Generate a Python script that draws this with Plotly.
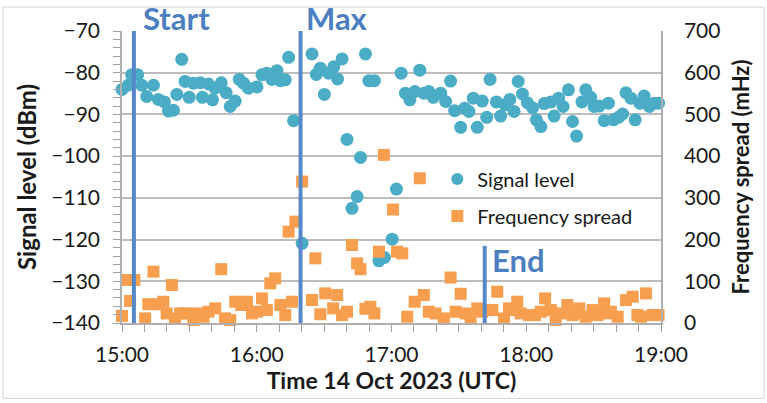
import pandas as pd
import plotly.graph_objects as go

# ---- data (minutes after 15:00 UTC, 14 Oct 2023) ----
sig_min = [0, 2.8, 4.3, 7.0, 8.8, 11.0, 14.0, 16.2, 18.9, 20.7, 22.9, 24.4, 26.6, 28.1, 29.9,
           31.8, 34.8, 35.8, 38.5, 40.3, 41.5, 44.2, 46.4, 48.2, 50.4, 52.2, 54.1, 56.3, 60.1,
           62.3, 64.5, 66.8, 69.0, 70.5, 72.7, 74.2, 76.4, 80.2, 84.6, 86.5, 88.3, 90.1, 92.0,
           94.3, 96.0, 98.0, 100.2, 102.4, 104.7, 106.2, 108.4, 109.9, 112.4, 114.4, 116.9,
           120.3, 122.2, 124.3, 126.2, 128.2, 130.4, 132.6, 134.4, 136.6, 138.6, 141.9, 144.1,
           146.3, 148.1, 150.8, 152.6, 154.5, 156.4, 158.2, 160.4, 162.4, 163.9, 166.7, 168.6,
           170.6, 172.7, 174.6, 176.4, 178.3, 180.5, 182.8, 184.5, 186.5, 188.0, 191.0, 192.4,
           194.4, 196.4, 198.8, 200.6, 202.4, 204.8, 206.5, 208.7, 210.2, 212.5, 214.7, 216.6,
           218.9, 221.1, 222.9, 224.4, 226.6, 228.5, 230.6, 232.5, 234.8, 237.0, 238.9, 240.7]
sig_dbm = [-84.0, -83.0, -80.5, -80.5, -83.0, -85.7, -83.0, -86.4, -87.0, -89.2, -89.0, -85.2,
           -76.8, -82.1, -85.9, -82.5, -82.4, -85.9, -82.7, -86.5, -83.7, -82.4, -84.8, -88.1,
           -86.8, -81.6, -82.5, -83.7, -83.4, -80.5, -80.1, -81.6, -79.5, -81.9, -81.7, -76.3,
           -91.5, -120.9, -75.5, -80.4, -78.9, -85.2, -80.1, -78.6, -81.5, -76.7, -96.0, -112.5,
           -109.7, -100.3, -75.5, -81.9, -81.9, -125.1, -124.3, -119.9, -107.9, -80.1, -84.9,
           -86.5, -84.5, -79.4, -84.9, -84.5, -85.9, -84.9, -86.9, -82.0, -89.1, -93.1, -88.5,
           -89.3, -86.1, -93.1, -86.8, -90.7, -81.6, -87.0, -90.4, -87.7, -86.4, -89.3, -82.1,
           -85.1, -87.2, -88.4, -91.3, -92.9, -87.4, -87.0, -90.4, -86.1, -88.1, -84.1, -91.7,
           -95.2, -87.0, -84.1, -85.9, -88.1, -88.0, -91.5, -87.3, -91.3, -90.7, -89.9, -84.8,
           -86.1, -91.3, -87.3, -85.6, -88.1, -87.3, -87.3, -86.7]

freq_min = [0, 2.5, 3.6, 5.5, 10.3, 11.7, 14.0, 15.5, 18.4, 19.9, 22.2, 23.6, 25.9, 28.1, 31.8,
            33.3, 36.3, 38.5, 41.5, 44.2, 45.9, 48.2, 50.4, 53.1, 55.6, 57.9, 60.1, 62.3, 64.5,
            66.0, 68.2, 70.5, 72.7, 74.2, 75.7, 77.2, 80.2, 84.6, 86.1, 88.3, 90.5, 94.0, 95.8,
            98.0, 100.2, 102.4, 104.7, 106.2, 108.4, 110.6, 112.4, 114.4, 116.6, 120.7, 122.5,
            124.8, 127.0, 130.3, 132.6, 134.4, 136.6, 139.6, 143.3, 146.3, 148.6, 150.8, 153.0,
            155.2, 158.2, 160.4, 162.7, 164.9, 167.1, 170.1, 172.3, 174.6, 176.0, 177.5, 181.2,
            183.9, 186.5, 188.4, 190.9, 193.1, 195.4, 198.3, 200.6, 202.4, 203.6, 206.5, 209.5,
            211.7, 214.7, 216.6, 217.7, 220.7, 224.4, 227.4, 229.5, 231.1, 233.3, 236.3, 238.9,
            240.7]
freq_mhz = [17, 103, 53, 103, 11, 45, 123, 45, 51, 23, 91, 11, 23, 23, 7,
            23, 15, 27, 35, 129, 11, 7, 51, 43, 51, 23, 27, 59, 31,
            95, 107, 43, 19, 219, 51, 243, 339, 55, 155, 21, 71, 35, 67,
            19, 27, 187, 143, 129, 34, 39, 23, 171, 403, 272, 171,
            167, 15, 51, 347, 67, 27, 23, 11, 109, 27, 70, 23,
            11, 35, 27, 31, 31, 75, 11, 35, 31, 51, 23, 19,
            19, 27, 59, 31, 7, 23, 43, 19, 23, 35, 15, 31,
            19, 47, 23, 27, 15, 55, 63, 19, 15, 71, 19, 19,
            15]

event_names = ["Start", "Max", "End"]
event_min = [5.3, 79.5, 161.5]
end_line_top_dbm = -121.5

x_ticks = ["15:00", "16:00", "17:00", "18:00", "19:00"]

# ---- build ----
base = pd.Timestamp("2023-10-14 15:00")
to_t = lambda m: [base + pd.Timedelta(minutes=v) for v in m]

FONT = "Lato"
TEAL = "#4bacc6"
ORANGE = "#f79f4f"
BLUE_LINE = "#5588c8"
BLUE_TEXT = "#4d7fc0"
TXT = "#1a1a1a"

fig = go.Figure()
fig.add_trace(go.Scatter(x=to_t(sig_min), y=sig_dbm, mode="markers", name="Signal level",
                         marker=dict(color=TEAL, size=13, symbol="circle"),
                         cliponaxis=False, legendgroup="a", yaxis="y"))
fig.add_trace(go.Scatter(x=to_t(freq_min), y=freq_mhz, mode="markers", name="Frequency spread",
                         marker=dict(color=ORANGE, size=12, symbol="square"),
                         cliponaxis=False, legendgroup="b", yaxis="y2"))

ev_t = to_t(event_min)
shapes = [
    dict(type="line", xref="x", yref="paper", x0=ev_t[0], x1=ev_t[0], y0=0, y1=1,
         line=dict(color=BLUE_LINE, width=4)),
    dict(type="line", xref="x", yref="paper", x0=ev_t[1], x1=ev_t[1], y0=0, y1=1,
         line=dict(color=BLUE_LINE, width=4)),
    dict(type="line", xref="x", yref="y", x0=ev_t[2], x1=ev_t[2], y0=-140, y1=end_line_top_dbm,
         line=dict(color=BLUE_LINE, width=4)),
    dict(type="rect", xref="paper", yref="paper", x0=-0.2208, x1=1.191, y0=-0.258, y1=1.082,
         line=dict(color="#d4d4d4", width=1), layer="below"),
]
ann_font = dict(family=FONT, size=31, color=BLUE_TEXT)
annotations = [
    dict(x=ev_t[0], y=1, xref="x", yref="paper", text="<b>" + event_names[0] + "</b>",
         showarrow=False, xanchor="left", yanchor="bottom", xshift=7, yshift=-8, font=ann_font),
    dict(x=ev_t[1], y=1, xref="x", yref="paper", text="<b>" + event_names[1] + "</b>",
         showarrow=False, xanchor="left", yanchor="bottom", xshift=3, yshift=-8, font=ann_font),
    dict(x=ev_t[2], y=end_line_top_dbm, xref="x", yref="y", text="<b>" + event_names[2] + "</b>",
         showarrow=False, xanchor="left", yanchor="top", xshift=5, yshift=7, font=ann_font),
]

tickvals = [pd.Timestamp("2023-10-14 " + t) for t in x_ticks]

fig.update_layout(
    width=767, height=403,
    margin=dict(l=122, r=106, t=31, b=80, autoexpand=False),
    paper_bgcolor="white", plot_bgcolor="white",
    font=dict(family=FONT, size=21, color=TXT),
    showlegend=True,
    legend=dict(x=0.585, y=0.56, xanchor="left", yanchor="top", bgcolor="rgba(0,0,0,0)",
                font=dict(family=FONT, size=20, color=TXT), tracegroupgap=8,
                traceorder="grouped", itemsizing="constant"),
    xaxis=dict(type="date", range=[tickvals[0], tickvals[-1]], tickvals=tickvals,
               ticktext=x_ticks, showgrid=False, showline=True, linecolor="#b0b0b0",
               linewidth=1.5, ticks="outside", ticklen=7, tickcolor="#a0a0a0",
               ticklabelstandoff=5, tickfont=dict(size=21),
               minor=dict(dtick=600000, ticks="outside", ticklen=7, tickcolor="#a0a0a0"),
               title=dict(text="<b>Time 14 Oct 2023 (UTC)</b>", standoff=2,
                          font=dict(size=23)),
               zeroline=False),
    yaxis=dict(range=[-140, -70], dtick=10, showgrid=True, gridcolor="#bdbdbd", gridwidth=1.5,
               showline=True, linecolor="#b0b0b0", linewidth=1.5, ticks="outside", ticklen=7,
               tickcolor="#a0a0a0", ticklabelstandoff=9, tickfont=dict(size=21),
               minor=dict(dtick=2, ticks="outside", ticklen=7,
                          tickcolor="#a0a0a0", showgrid=False),
               title=dict(text="<b>Signal level (dBm)</b>", standoff=8, font=dict(size=24)),
               zeroline=False),
    yaxis2=dict(range=[0, 700], dtick=100, overlaying="y", side="right", showgrid=False,
                showline=True, linecolor="#b0b0b0", linewidth=1.5, ticks="",
                ticklabelstandoff=17, tickfont=dict(size=21),
                title=dict(text="<b>Frequency spread (mHz)</b>", standoff=14, font=dict(size=22)),
                zeroline=False),
    shapes=shapes,
    annotations=annotations,
)

fig.write_html("out.html", config={"displayModeBar": False},
               post_script="document.body.style.margin='0';document.body.style.overflow='hidden';")
